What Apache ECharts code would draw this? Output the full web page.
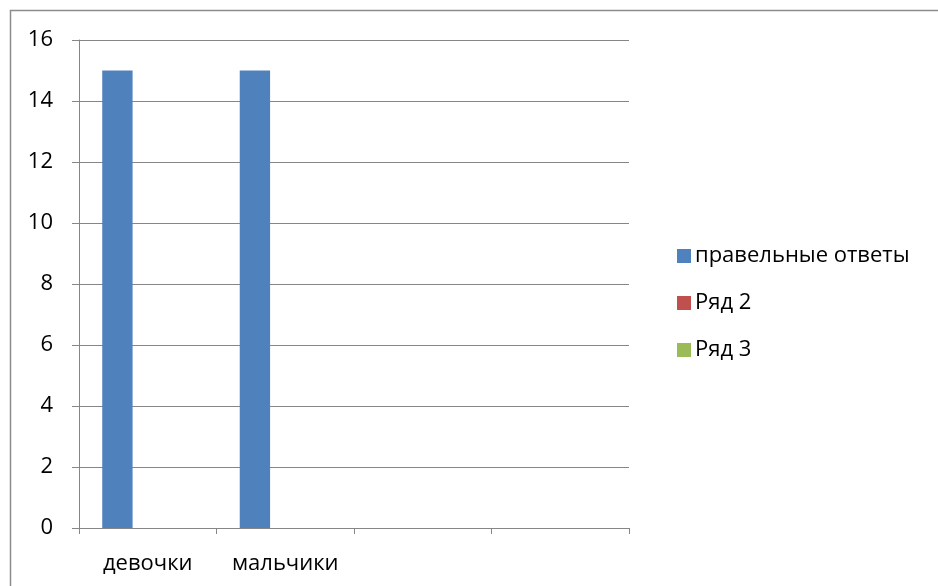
<!DOCTYPE html>
<html>
<head>
<meta charset="utf-8">
<script src="https://cdn.jsdelivr.net/npm/echarts@6/dist/echarts.min.js"></script>
<style>html,body{margin:0;padding:0;background:#fff}#c{width:938px;height:586px}</style>
</head>
<body>
<div id="c"></div>
<script>
var categories = ['девочки', 'мальчики', '', ''];
var seriesNames = ['правельные ответы', 'Ряд 2', 'Ряд 3'];
var series1 = [15, 15, null, null];
var series2 = [null, null, null, null];
var series3 = [null, null, null, null];
var yTicks = [0, 2, 4, 6, 8, 10, 12, 14, 16];

var chart = echarts.init(document.getElementById('c'), null, {renderer: 'canvas'});
var font = 'Open Sans, Noto Sans, sans-serif';
var gray = '#868686';
chart.setOption({
  animation: false,
  color: ['#4F81BD', '#C0504D', '#9BBB59'],
  graphic: [{
    type: 'rect', shape: {x: 10.5, y: 10.5, width: 1000, height: 1000},
    style: {fill: 'none', stroke: '#8c8c8c', lineWidth: 1.5}, silent: true
  }],
  grid: {left: 79, right: 309, top: 40, bottom: 58, containLabel: false},
  legend: {
    orient: 'vertical', left: 672, top: 240,
    itemWidth: 14, itemHeight: 14, itemGap: 25,
    icon: 'rect',
    textStyle: {fontFamily: font, fontSize: 22, color: '#000', padding: [0, 0, 0, -1]},
    data: seriesNames
  },
  xAxis: {
    type: 'category', data: categories,
    axisLine: {lineStyle: {color: gray, width: 1}},
    axisTick: {show: true, length: 6, alignWithLabel: false, lineStyle: {color: gray}},
    axisLabel: {fontFamily: font, fontSize: 22, color: '#000', margin: 25, interval: 0},
    splitLine: {show: false}
  },
  yAxis: {
    type: 'value', min: 0, max: 16, interval: 2,
    axisLine: {show: true, lineStyle: {color: gray}},
    axisTick: {show: true, length: 7, lineStyle: {color: gray}},
    axisLabel: {fontFamily: font, fontSize: 22, color: '#000', margin: 26,
      formatter: function (v) { return yTicks.indexOf(v) >= 0 ? String(v) : ''; }},
    splitLine: {show: true, lineStyle: {color: gray, width: 1}}
  },
  series: [
    {name: seriesNames[0], type: 'bar', data: series1, barGap: '0%', barCategoryGap: '33.8%'},
    {name: seriesNames[1], type: 'bar', data: series2, barGap: '0%', barCategoryGap: '33.8%'},
    {name: seriesNames[2], type: 'bar', data: series3, barGap: '0%', barCategoryGap: '33.8%'}
  ]
});
</script>
</body>
</html>
